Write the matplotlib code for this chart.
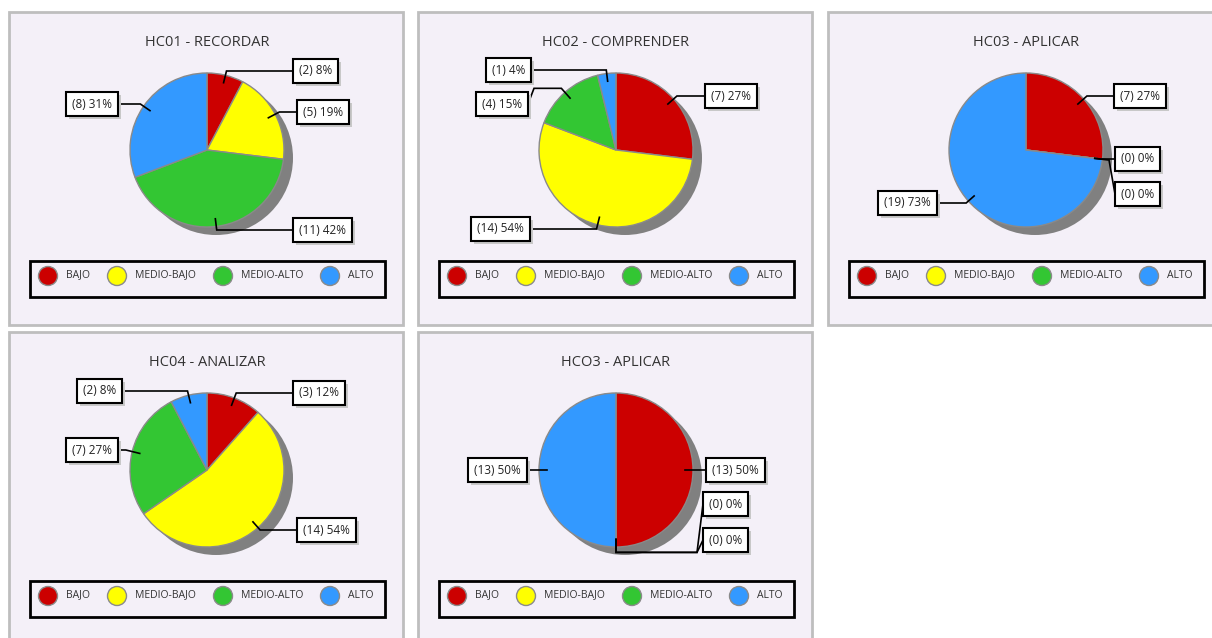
import numpy as np
import matplotlib
matplotlib.use('Agg')
import matplotlib.pyplot as plt
from matplotlib import patches

plt.rcParams['font.family'] = ['Open Sans', 'DejaVu Sans']

# Data
categories = ['BAJO', 'MEDIO-BAJO', 'MEDIO-ALTO', 'ALTO']
colors = ['#CC0000', '#FFFF00', '#33C633', '#3399FF']
titles = ['HC01 - RECORDAR', 'HC02 - COMPRENDER', 'HC03 - APLICAR', 'HC04 - ANALIZAR', 'HCO3 - APLICAR']
hc01 = [2, 5, 11, 8]
hc02 = [7, 14, 4, 1]
hc03 = [7, 0, 0, 19]
hc04 = [3, 14, 7, 2]
hc03b = [13, 0, 0, 13]
panel_values = [hc01, hc02, hc03, hc04, hc03b]

# Layout (pixels, y down)
W, H = 1212, 638
panel_origins = [(9, 12), (418, 12), (828, 12), (9, 332), (418, 332)]
PW, PH = 394, 313
R = 77
# label box edge (x nearest to pie), y centre, side of the pie
label_pos = [
    [(293, 71, 'R'), (297, 112, 'R'), (293, 230, 'R'), (118, 104, 'L')],
    [(705, 96, 'R'), (530, 229, 'L'), (528, 104, 'L'), (531, 70, 'L')],
    [(1114, 96, 'R'), (1115, 159, 'R'), (1115, 194, 'R'), (937, 203, 'L')],
    [(293, 393, 'R'), (297, 530, 'R'), (118, 450, 'L'), (122, 391, 'L')],
    [(706, 470, 'R'), (703, 504, 'R'), (703, 540, 'R'), (527, 470, 'L')],
]
legend_dx = [39, 108, 214, 321]


def Y(y):
    return H - y


fig = plt.figure(figsize=(W / 100, H / 100), dpi=100)
fig.patch.set_facecolor('white')
ax = fig.add_axes([0, 0, 1, 1])

label_texts = []
for i, vals in enumerate(panel_values):
    px, py = panel_origins[i]
    ax.add_patch(patches.Rectangle((px, Y(py + PH)), PW, PH, facecolor='#F4F0F8',
                                   edgecolor='#BEBEBE', linewidth=2, zorder=0))
    ax.text(px + 198, Y(py + 31), titles[i], ha='center', va='center', fontsize=10.5, color='#333333')

    cx, cy = px + 198, py + 138
    # shadow
    ax.add_patch(patches.Circle((cx + 9, Y(cy + 8)), R, facecolor='#808080', edgecolor='none', zorder=1))
    ax.pie(vals, colors=colors, startangle=90, counterclock=False, radius=R, center=(cx, Y(cy)),
           wedgeprops=dict(edgecolor='#8A8A8A', linewidth=1, zorder=2))

    total = sum(vals)
    cum = 0
    for j, v in enumerate(vals):
        theta = np.deg2rad(360.0 * (cum + v / 2) / total)
        cum += v
        ux, uy = np.sin(theta), -np.cos(theta)
        ex, by, side = label_pos[i][j]
        sx, sy = cx + 0.9 * R * ux, cy + 0.9 * R * uy
        if abs(uy) < 0.05 and abs(by - cy) < 3:
            pts = [(sx, sy), (ex, by)]
        else:
            d = (by - cy) / uy if abs(uy) > 1e-6 else np.inf
            if 0.93 * R <= d <= 1.25 * R:
                pts = [(sx, sy), (cx + d * ux, by), (ex, by)]
            else:
                elx, ely = cx + 1.07 * R * ux, cy + 1.07 * R * uy
                sgn = 1 if ex > elx else -1
                pts = [(sx, sy), (elx, ely), (ex - sgn * 6, ely), (ex, by)]
        ax.plot([p[0] for p in pts], [Y(p[1]) for p in pts], color='black', linewidth=1.2,
                solid_joinstyle='miter', zorder=3)

        txt = '(%d) %d%%' % (v, round(100 * v / total))
        ha = 'left' if side == 'R' else 'right'
        tx = ex + 6 if side == 'R' else ex - 6
        t = ax.text(tx, Y(by), txt, ha=ha, va='center', fontsize=8.5, color='#222222',
                    bbox=dict(boxstyle='square,pad=0.5', facecolor='white', edgecolor='black', linewidth=1.5),
                    zorder=5)
        label_texts.append(t)

    # legend
    ax.add_patch(patches.Rectangle((px + 21, Y(py + 285)), 355, 36, facecolor='none',
                                   edgecolor='black', linewidth=2, zorder=3))
    for k, cat in enumerate(categories):
        lx = px + legend_dx[k]
        ax.add_patch(patches.Circle((lx, Y(py + 264)), 9.5, facecolor=colors[k],
                                    edgecolor='#8A8A8A', linewidth=1, zorder=3))
        ax.text(lx + 18, Y(py + 263), cat, ha='left', va='center', fontsize=7.5, color='#333333')

ax.set_xlim(0, W)
ax.set_ylim(0, H)
ax.set_aspect('equal')
ax.axis('off')

# drop shadows behind the label boxes
fig.canvas.draw()
renderer = fig.canvas.get_renderer()
inv = ax.transData.inverted()
for t in label_texts:
    bb = t.get_bbox_patch().get_window_extent(renderer)
    (x0, y0), (x1, y1) = inv.transform([(bb.x0, bb.y0), (bb.x1, bb.y1)])
    ax.add_patch(patches.Rectangle((x0 + 3, y0 - 3), x1 - x0, y1 - y0, facecolor='#C8C8C8',
                                   edgecolor='none', zorder=4))

fig.savefig('out.png', dpi=100)
